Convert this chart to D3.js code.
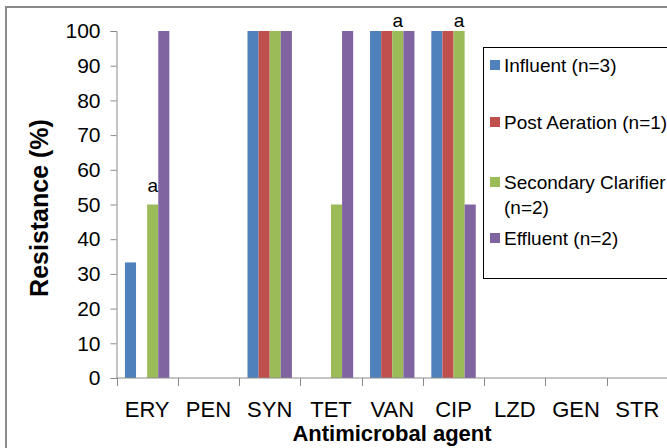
<!DOCTYPE html>
<html>
<head>
<meta charset="utf-8">
<style>
  body { margin: 0; background: #fff; }
  svg { display: block; font-family: Arial, "Liberation Sans", sans-serif; }
</style>
</head>
<body>
<svg width="667" height="448"></svg>
<script src="https://d3js.org/d3.v7.min.js"></script>
<script>

var agents = ["ERY", "PEN", "SYN", "TET", "VAN", "CIP", "LZD", "GEN", "STR"];
var seriesNames = ["Influent (n=3)", "Post Aeration (n=1)", "Secondary Clarifier (n=2)", "Effluent (n=2)"];
var influent   = [33.3, 0, 100, 0, 100, 100, 0, 0, 0];
var postAer    = [0, 0, 100, 0, 100, 100, 0, 0, 0];
var secClar    = [50, 0, 100, 50, 100, 100, 0, 0, 0];
var effluent   = [100, 0, 100, 100, 100, 50, 0, 0, 0];
var yTicks = [0, 10, 20, 30, 40, 50, 60, 70, 80, 90, 100];
// "a" markers sit over the secondary clarifier bar
var marks = ["ERY", "VAN", "CIP"];

var colors = ["#4F81BD", "#C0504D", "#9BBB59", "#8064A2"];
var values = [influent, postAer, secClar, effluent];

var svg = d3.select("svg");

// outer frame
svg.append("rect")
    .attr("x", 6).attr("y", 7)
    .attr("width", 680).attr("height", 460)
    .attr("fill", "none")
    .attr("stroke", "#8a8a8a")
    .attr("stroke-width", 2);

var x0 = d3.scaleBand()
    .domain(agents)
    .range([116.5, 668]);

var x1 = d3.scaleBand()
    .domain(d3.range(seriesNames.length))
    .range([0, x0.bandwidth()])
    .paddingOuter(0.76);

var y = d3.scaleLinear()
    .domain([0, 100])
    .range([378, 31]);

var g = svg.append("g");

// bars
agents.forEach(function(a, i) {
  values.forEach(function(s, k) {
    if (!s[i]) return;
    g.append("rect")
        .attr("x", x0(a) + x1(k))
        .attr("y", y(s[i]))
        .attr("width", x1.bandwidth())
        .attr("height", y(0) - y(s[i]))
        .attr("fill", colors[k]);
  });
});

// y axis
var yAxis = svg.append("g")
    .attr("transform", "translate(116.5,0)")
    .call(d3.axisLeft(y).tickValues(yTicks).tickSize(6).tickPadding(10));
yAxis.selectAll("line, path").attr("stroke", "#8a8a8a");
yAxis.selectAll("text")
    .attr("font-size", 21)
    .attr("font-family", "Arial, 'Liberation Sans', sans-serif")
    .attr("fill", "#000");

// x axis line + boundary ticks
svg.append("line")
    .attr("x1", 116.5).attr("x2", 668)
    .attr("y1", y(0)).attr("y2", y(0))
    .attr("stroke", "#8a8a8a");
agents.forEach(function(a) {
  svg.append("line")
      .attr("x1", Math.round(x0(a)) + 0.5).attr("x2", Math.round(x0(a)) + 0.5)
      .attr("y1", y(0)).attr("y2", y(0) + 8)
      .attr("stroke", "#8a8a8a");
});
svg.selectAll(".xlab")
    .data(agents)
  .enter().append("text")
    .attr("class", "xlab")
    .attr("x", function(d) { return x0(d) + x0.bandwidth() / 2; })
    .attr("y", 417)
    .attr("text-anchor", "middle")
    .attr("font-size", 22)
    .text(function(d) { return d; });

// annotation letters
marks.forEach(function(m) {
  var i = agents.indexOf(m);
  svg.append("text")
      .attr("x", x0(m) + x1(2) + x1.bandwidth() / 2)
      .attr("y", y(secClar[i]) - (secClar[i] < 100 ? 13 : 4))
      .attr("text-anchor", "middle")
      .attr("font-size", 19)
      .text("a");
});

// axis titles
svg.append("text")
    .attr("transform", "translate(48,208) rotate(-90)")
    .attr("text-anchor", "middle")
    .attr("font-size", 25)
    .attr("font-weight", "bold")
    .text("Resistance (%)");

svg.append("text")
    .attr("x", 392)
    .attr("y", 441)
    .attr("text-anchor", "middle")
    .attr("font-size", 22)
    .attr("font-weight", "bold")
    .text("Antimicrobal agent");

// legend
var leg = svg.append("g");
leg.append("rect")
    .attr("x", 483.5).attr("y", 47.5)
    .attr("width", 220).attr("height", 231)
    .attr("fill", "#fff")
    .attr("stroke", "#000");

var legLines = [["Influent (n=3)"], ["Post Aeration (n=1)"], ["Secondary Clarifier", "(n=2)"], ["Effluent (n=2)"]];
var legY = [65, 122, 182, 238];
legLines.forEach(function(lines, k) {
  leg.append("rect")
      .attr("x", 490).attr("y", legY[k] - 5)
      .attr("width", 10).attr("height", 10)
      .attr("fill", colors[k]);
  lines.forEach(function(t, j) {
    leg.append("text")
        .attr("x", 504)
        .attr("y", legY[k] + 7 + j * 25)
        .attr("font-size", 19)
        .text(t);
  });
});

</script>
</body>
</html>
